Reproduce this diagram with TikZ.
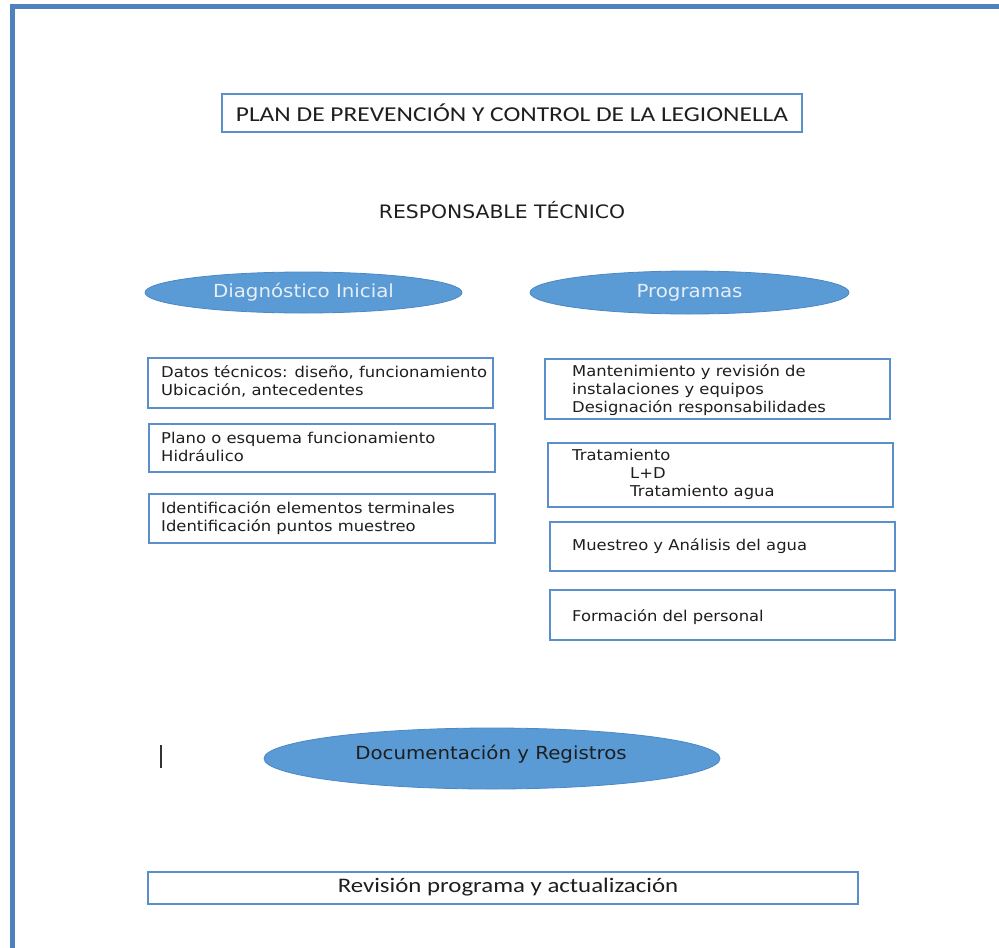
\documentclass[tikz,border=0pt]{standalone}
\usepackage{fontspec}
\usetikzlibrary{shapes.geometric}
\newfontfamily\vf[FakeStretch=1.1]{DejaVu Sans}
\newfontfamily\cf[FakeStretch=1.2]{Carlito}
\definecolor{frameblue}{HTML}{4F81BD}
\definecolor{boxblue}{HTML}{5B8FCB}
\definecolor{ellfill}{HTML}{5B9BD5}
\definecolor{elldraw}{HTML}{4A88C6}
\definecolor{elltext}{HTML}{E6EEF6}
\definecolor{txtc}{HTML}{1E1E1E}
\begin{document}
\begin{tikzpicture}[x=1pt,y=-1pt,
  frameline/.style={line width=5pt, draw=frameblue},
  bx/.style={draw=boxblue, line width=1.5pt, rectangle, inner sep=0pt, fill=white},
  ell/.style={ellipse, fill=ellfill, draw=elldraw, line width=0.8pt, inner sep=0pt},
  txt/.style={inner sep=0pt, align=left, text=txtc, font=\vf\fontsize{14.9}{18}\selectfont},
  elltxt/.style={text=elltext, font=\vf\fontsize{18}{21}\selectfont},
]
\useasboundingbox (0,0) rectangle (999,948);
\fill[white] (0,0) rectangle (999,948);
\draw[frameline] (12,948) -- (12,6.5) -- (999,6.5);

% title
\node[bx, minimum width=580pt, minimum height=38pt, text=txtc, font=\cf\fontsize{21.2}{24}\selectfont] (title) at (512,113) {PLAN DE PREVENCIÓN Y CONTROL DE LA LEGIONELLA};

\node[inner sep=0pt, text=txtc, font=\vf\fontsize{18.5}{21}\selectfont] (resp) at (502,210) {RESPONSABLE TÉCNICO};

% ellipses
\node[ell, minimum width=317pt, minimum height=41pt, elltxt] (diag) at (303.5,292.5) {Diagnóstico Inicial};
\node[ell, minimum width=319pt, minimum height=43pt, elltxt] (prog) at (689.5,292.5) {Programas};

% left boxes
\node[bx, minimum width=345pt, minimum height=50pt] (L1) at (320.5,383) {};
\node[bx, minimum width=346pt, minimum height=48pt] (L2) at (322,448) {};
\node[bx, minimum width=346pt, minimum height=49pt] (L3) at (322,518.5) {};
\node[txt, anchor=west] (L1t) at (161,381) {Datos técnicos: diseño, funcionamiento\\Ubicación, antecedentes};
\node[txt, anchor=west] (L2t) at (161,447) {Plano o esquema funcionamiento\\Hidráulico};
\node[txt, anchor=west] (L3t) at (161,518) {Identificación elementos terminales\\Identificación puntos muestreo};

% right boxes
\node[bx, minimum width=345pt, minimum height=60pt] (R1) at (717.5,389) {};
\node[bx, minimum width=345pt, minimum height=64pt] (R2) at (720.5,475) {};
\node[bx, minimum width=345pt, minimum height=49pt] (R3) at (722.5,546.5) {};
\node[bx, minimum width=345pt, minimum height=50pt] (R4) at (722.5,615) {};
\node[txt, anchor=west] (R1t) at (572,390) {Mantenimiento y revisión de\\instalaciones y equipos\\Designación responsabilidades};
\node[txt, anchor=west] (R2t) at (572,474) {Tratamiento\\\hspace*{58pt}L+D\\\hspace*{58pt}Tratamiento agua};
\node[txt, anchor=west] (R3t) at (572,546) {Muestreo y Análisis del agua};
\node[txt, anchor=west] (R4t) at (572,617) {Formación del personal};

% documentation
\draw[line width=1.3pt, black!80] (161,745) -- (161,768);
\node[ell, minimum width=456pt, minimum height=61pt] (doc) at (492,758.5) {};
\node[inner sep=0pt, text=txtc, font=\vf\fontsize{18}{21}\selectfont] (doct) at (491,754) {Documentación y Registros};

% bottom
\node[bx, minimum width=710pt, minimum height=32pt] (rev) at (503,888) {};
\node[inner sep=0pt, text=txtc, font=\cf\fontsize{20.7}{24}\selectfont] (revt) at (508,887) {Revisión programa y actualización};
\end{tikzpicture}
\end{document}
